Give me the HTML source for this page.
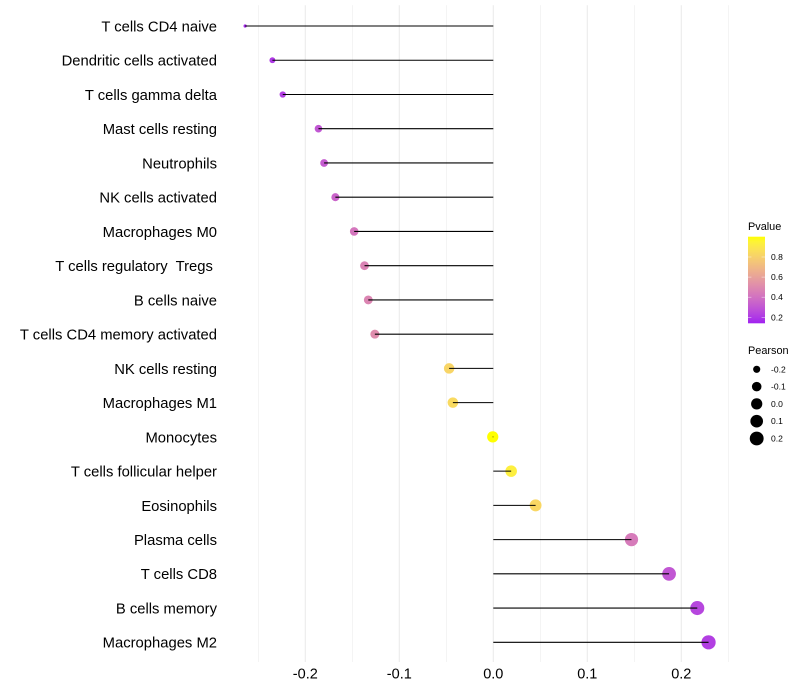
<!DOCTYPE html>
<html>
<head>
<meta charset="utf-8">
<title>Immune cell correlation lollipop chart</title>
<style>
html,body{margin:0;padding:0;background:#fff;width:800px;height:700px;overflow:hidden}
svg{display:block}
text{font-family:"Liberation Sans",sans-serif;fill:#000;white-space:pre}
</style>
</head>
<body>
<svg id="chart" width="800" height="700" viewBox="0 0 800 700" xmlns="http://www.w3.org/2000/svg">
<defs>
<linearGradient id="pvalue-gradient" x1="0" y1="1" x2="0" y2="0"></linearGradient>
</defs>
</svg>
<script>
const categories = ["T cells CD4 naive","Dendritic cells activated","T cells gamma delta","Mast cells resting","Neutrophils","NK cells activated","Macrophages M0","T cells regulatory  Tregs ","B cells naive","T cells CD4 memory activated","NK cells resting","Macrophages M1","Monocytes","T cells follicular helper","Eosinophils","Plasma cells","T cells CD8","B cells memory","Macrophages M2"];
const pearson = [-0.264,-0.235,-0.224,-0.186,-0.180,-0.168,-0.148,-0.137,-0.133,-0.126,-0.047,-0.043,-0.0006,0.019,0.045,0.147,0.187,0.217,0.229];
const pvalue = [0.16,0.20,0.22,0.30,0.32,0.35,0.42,0.47,0.48,0.51,0.82,0.84,1.00,0.93,0.83,0.44,0.30,0.24,0.22];
const xTicks = [-0.2,-0.1,0.0,0.1,0.2];
const xMinorTicks = [-0.25,-0.15,-0.05,0.05,0.15,0.25];
const pvalueTicks = [0.8,0.6,0.4,0.2];
const pearsonLegend = [-0.2,-0.1,0.0,0.1,0.2];

const NS = 'http://www.w3.org/2000/svg';
const svg = document.getElementById('chart');
function mk(tag, attrs, parent){
  const el = document.createElementNS(NS, tag);
  for (const k in attrs) el.setAttribute(k, attrs[k]);
  (parent || svg).appendChild(el);
  return el;
}

/* axis functions */
const xScale = v => 493.3 + v * 940;
const yScale = i => 26 + i * 34.24;
const PANEL_TOP = 5.3, PANEL_BOTTOM = 662;

/* size scale (area) */
const pMin = Math.min(...pearson), pMax = Math.max(...pearson);
function radius(v){
  const t = Math.max(0, (v - pMin) / (pMax - pMin));
  return 1.6 + 5.5 * Math.sqrt(t);
}

/* colour scale: Lab interpolation purple -> yellow */
function toLin(c){c/=255;return c<=0.04045?c/12.92:Math.pow((c+0.055)/1.055,2.4);}
function toSrgb(c){c=c<=0.0031308?12.92*c:1.055*Math.pow(c,1/2.4)-0.055;return Math.round(Math.min(1,Math.max(0,c))*255);}
function rgb2lab(r,g,b){
  r=toLin(r);g=toLin(g);b=toLin(b);
  const X=(0.4124*r+0.3576*g+0.1805*b)/0.95047,Y=0.2126*r+0.7152*g+0.0722*b,Z=(0.0193*r+0.1192*g+0.9505*b)/1.08883;
  const f=t=>t>0.008856?Math.cbrt(t):7.787*t+16/116;
  return [116*f(Y)-16,500*(f(X)-f(Y)),200*(f(Y)-f(Z))];
}
function lab2rgb(L,a,b){
  const fy=(L+16)/116,fx=fy+a/500,fz=fy-b/200;
  const g=t=>t*t*t>0.008856?t*t*t:(t-16/116)/7.787;
  const X=g(fx)*0.95047,Y=g(fy),Z=g(fz)*1.08883;
  const r=3.2406*X-1.5372*Y-0.4986*Z,gg=-0.9689*X+1.8758*Y+0.0415*Z,bb=0.0557*X-0.204*Y+1.057*Z;
  return 'rgb('+toSrgb(r)+','+toSrgb(gg)+','+toSrgb(bb)+')';
}
const labLow = rgb2lab(160,32,240), labHigh = rgb2lab(255,255,0);
const colorMin = 0.14, colorMax = 1.0;
function color(p){
  const t = Math.min(1, Math.max(0, (p - colorMin) / (colorMax - colorMin)));
  return lab2rgb(labLow[0]+(labHigh[0]-labLow[0])*t, labLow[1]+(labHigh[1]-labLow[1])*t, labLow[2]+(labHigh[2]-labLow[2])*t);
}

/* grid */
const grid = mk('g', {});


xMinorTicks.forEach(v => {
  const l = mk('line', {x1:xScale(v),x2:xScale(v),y1:PANEL_TOP,y2:PANEL_BOTTOM,stroke:'#ebebeb','stroke-width':0.55}, grid);
  
  
});
xTicks.forEach(v => {
  const l = mk('line', {x1:xScale(v),x2:xScale(v),y1:PANEL_TOP,y2:PANEL_BOTTOM,stroke:'#ebebeb','stroke-width':1.07}, grid);
  
  
});

/* y axis labels */
categories.forEach((c, i) => {
  const t = mk('text', {x:217,y:yScale(i)+5.4,'text-anchor':'end','font-size':14.8});
  t.textContent = c;
  
  
});

/* x axis labels */
xTicks.forEach(v => {
  const t = mk('text', {x:xScale(v),y:678.5,'text-anchor':'middle','font-size':14.5});
  t.textContent = v.toFixed(1);
  
  
});

/* marks */
categories.forEach((c, i) => {
  const pt = mk('circle', {cx:xScale(pearson[i]),cy:yScale(i),r:radius(pearson[i]),fill:color(pvalue[i])});
  
  
});
categories.forEach((c, i) => {
  const seg = mk('line', {x1:xScale(0),x2:xScale(pearson[i]),y1:yScale(i),y2:yScale(i),stroke:'#000','stroke-width':1.07});
  
  
});

/* Pvalue legend */
const grad = document.getElementById('pvalue-gradient');
for (let s = 0; s <= 20; s++) {
  mk('stop', {offset:(s/20),'stop-color':color(colorMin + (colorMax-colorMin)*s/20)}, grad);
}
const pvY = p => 317.3 - (p - 0.2) * 100.5;
const pvTitle = mk('text', {x:748,y:230,'font-size':10.9});
pvTitle.textContent = 'Pvalue';


const bar = mk('rect', {x:748,y:236.7,width:17,height:86.6,fill:'url(#pvalue-gradient)'});


pvalueTicks.forEach(p => {
  const y = pvY(p);
  const a = mk('line', {x1:748,x2:751.4,y1:y,y2:y,stroke:'#fff','stroke-opacity':0.7,'stroke-width':0.6});
  
  
  const b = mk('line', {x1:761.6,x2:765,y1:y,y2:y,stroke:'#fff','stroke-opacity':0.7,'stroke-width':0.6});
  
  
  const t = mk('text', {x:771,y:y+3,'font-size':8.53});
  t.textContent = p.toFixed(1);
  
  
});

/* Pearson legend */
const peTitle = mk('text', {x:748,y:354,'font-size':10.9});
peTitle.textContent = 'Pearson';


pearsonLegend.forEach((v, i) => {
  const y = 369.3 + i * 17.3;
  const c = mk('circle', {cx:756.7,cy:y,r:radius(v),fill:'#000'});
  
  
  const t = mk('text', {x:771,y:y+3,'font-size':8.53});
  t.textContent = v.toFixed(1);
  
  
});
</script>
</body>
</html>
